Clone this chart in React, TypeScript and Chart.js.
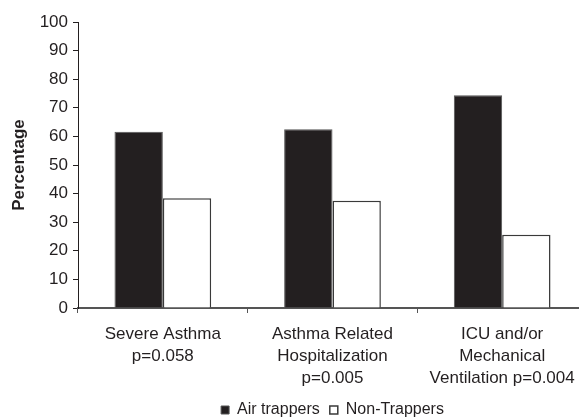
import React, { useEffect, useRef } from "react";
import { Chart, registerables } from "chart.js";

Chart.register(...registerables);

const categories: string[][] = [
  ["Severe Asthma", "p=0.058"],
  ["Asthma Related", "Hospitalization", "p=0.005"],
  ["ICU and/or", "Mechanical", "Ventilation p=0.004"],
];
const airTrappers: number[] = [61.6, 62.5, 74.4];
const nonTrappers: number[] = [38.4, 37.5, 25.6];
const seriesNames: string[] = ["Air trappers", "Non-Trappers"];
const yTicks = { min: 0, max: 100, step: 10 };
const yTitle = "Percentage";

const FONT = "'Liberation Sans', Arial, Helvetica, sans-serif";

export default function App() {
  const ref = useRef<HTMLCanvasElement>(null);
  useEffect(() => {
    if (!ref.current) return;
    const chart = new Chart(ref.current, {
      type: "bar",
      data: {
        labels: categories,
        datasets: [
          {
            label: seriesNames[0],
            data: airTrappers,
            backgroundColor: "#231f20",
            borderColor: "#555555",
            borderWidth: 1,
          },
          {
            label: seriesNames[1],
            data: nonTrappers,
            backgroundColor: "#ffffff",
            borderColor: "#3a3a3a",
            borderWidth: 1.5,
          },
        ],
      },
      options: {
        animation: false,
        responsive: false,
        devicePixelRatio: 1,
        layout: { padding: { left: 0, top: 22, right: 13, bottom: 0 } },
        datasets: {
          bar: { barPercentage: 1, categoryPercentage: 0.57 },
        },
        plugins: {
          tooltip: { enabled: false },
          legend: {
            position: "bottom",
            fullSize: false,
            labels: {
              boxWidth: 8,
              boxHeight: 8,
              padding: 10,
              color: "#231f20",
              font: { family: FONT, size: 16 },
            },
          },
        },
        scales: {
          x: {
            afterFit: (s: any) => {
              s.height = 84;
            },
            grid: {
              drawOnChartArea: false,
              drawTicks: true,
              tickLength: 5,
              color: "#555555",
            },
            border: { display: true, color: "#555555", width: 2 },
            ticks: {
              autoSkip: false,
              maxRotation: 0,
              minRotation: 0,
              padding: 10,
              color: "#231f20",
              font: { family: FONT, size: 17, lineHeight: 1.29 },
            },
          },
          y: {
            min: yTicks.min,
            max: yTicks.max,
            afterFit: (s: any) => {
              s.width = 78;
            },
            grid: {
              drawOnChartArea: false,
              drawTicks: true,
              tickLength: 5,
              color: "#231f20",
            },
            border: { display: true, color: "#231f20", width: 1 },
            ticks: {
              stepSize: yTicks.step,
              padding: 5,
              color: "#231f20",
              font: { family: FONT, size: 17 },
            },
            title: {
              display: true,
              text: yTitle,
              color: "#231f20",
              padding: { top: 9, bottom: 0 },
              font: { family: FONT, size: 17, weight: "bold" },
            },
          },
        },
      },
    });
    return () => chart.destroy();
  }, []);
  return (
    <div
      style={{
        position: "absolute",
        left: 0,
        top: 0,
        width: 579,
        height: 418,
        overflow: "hidden",
        background: "#ffffff",
      }}
    >
      <canvas ref={ref} width={600} height={428} style={{ width: 600, height: 428, display: "block" }} />
    </div>
  );
}
